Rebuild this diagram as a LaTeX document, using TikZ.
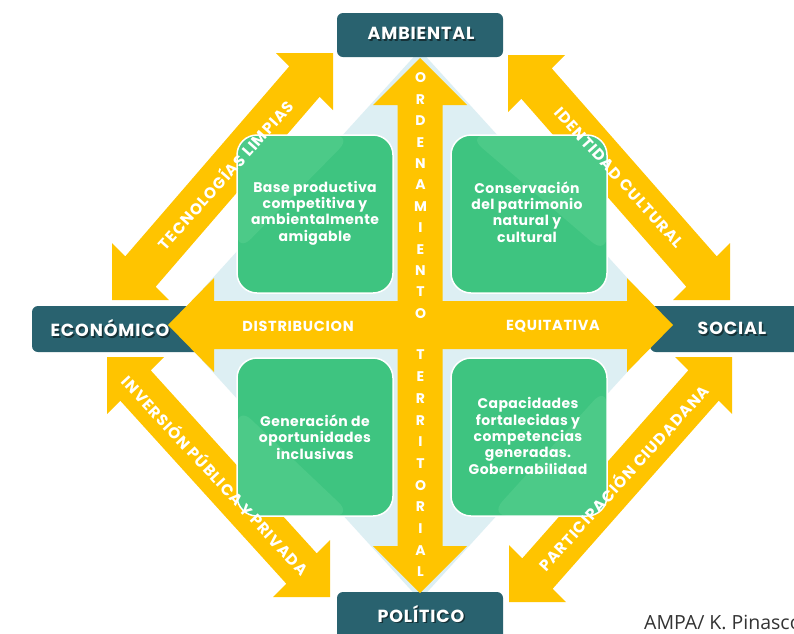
\documentclass[tikz,border=0pt]{standalone}
\usepackage{fontspec}
\setmainfont{Poppins}
\newfontfamily\widefont[LetterSpace=5]{Poppins}
\newfontfamily\midfont[LetterSpace=3]{Poppins}
\newfontfamily\diagfont[LetterSpace=7]{Poppins}
\newfontfamily\credfont{Open Sans}
\usetikzlibrary{calc}
\definecolor{tealc}{HTML}{29626F}
\definecolor{yel}{HTML}{FFC400}
\definecolor{lblue}{HTML}{DDEFF3}
\definecolor{gdark}{HTML}{3EC480}
\definecolor{glight}{HTML}{4CCA88}
\definecolor{shadowc}{HTML}{163238}
\begin{document}
\begin{tikzpicture}[x=1pt,y=-1pt,
  tealbox/.style={fill=tealc, rounded corners=6pt, inner sep=0pt},
  yfill/.style={fill=yel},
  greenbox/.style={draw=white, line width=1.5pt, fill=gdark, rounded corners=20pt,
     minimum width=156pt, minimum height=158pt, inner sep=0pt},
  gtext/.style={text=white, font=\midfont\bfseries\fontsize{14}{16.3}\selectfont, align=center, inner sep=0pt},
  ltext/.style={text=white, font=\widefont\bfseries\fontsize{17.5}{20}\selectfont, inner sep=0pt},
  lshadow/.style={text=shadowc, font=\widefont\bfseries\fontsize{17.5}{20}\selectfont, inner sep=0pt},
  atext/.style={text=white, font=\widefont\bfseries\fontsize{14.5}{16}\selectfont, inner sep=0pt},
  dtext/.style={text=white, font=\diagfont\bfseries\fontsize{15.5}{17}\selectfont, inner sep=0pt},
  vlet/.style={text=white, font=\bfseries\fontsize{14}{15}\selectfont, inner sep=0pt},
  lightcorner/.style={path picture={\fill[glight] #1;}},
]
\useasboundingbox (0,0) rectangle (794,633);
\fill[white] (0,0) rectangle (794,633);

% light blue diamond
\fill[lblue] (420,50) -- (670,325) -- (420,600) -- (170,325) -- cycle;

% teal boxes
\node[tealbox, minimum width=166pt, minimum height=44pt] (amb) at (420,35) {};
\node[tealbox, minimum width=178pt, minimum height=46pt] (eco) at (121,329) {};
\node[tealbox, minimum width=170pt, minimum height=46pt] (soc) at (735,329) {};
\node[tealbox, minimum width=166pt, minimum height=52pt] (pol) at (420,618) {};

% central cross arrows
\fill[yfill] (420,58) -- (467,105) -- (442.5,105) -- (442.5,546) -- (467,546) -- (420,593)
  -- (373,546) -- (397.5,546) -- (397.5,105) -- (373,105) -- cycle;
\fill[yfill] (168,325) -- (214,278) -- (214,301) -- (627,301) -- (627,278) -- (673,325)
  -- (627,372) -- (627,349) -- (214,349) -- (214,372) -- cycle;

% diagonal double arrows
\coordinate (t1) at (112,300); \coordinate (t2) at (333,53);
\coordinate (i1) at (508,55);  \coordinate (i2) at (730,300);
\coordinate (v1) at (107,357); \coordinate (v2) at (330,597);
\coordinate (p1) at (509,602); \coordinate (p2) at (732,357);
\fill[yfill] (t1) -- (112,243) -- (125.3,256.3) -- (289.3,66.3) -- (276,53) -- (t2)
  -- (333,110) -- (319.7,96.7) -- (155.7,286.7) -- (169,300) -- cycle;
\fill[yfill] (i1) -- (565,55) -- (551.7,68.3) -- (716.7,256.3) -- (730,243) -- (i2)
  -- (673,300) -- (686.3,286.7) -- (521.3,98.7) -- (508,112) -- cycle;
\fill[yfill] (v1) -- (164,357) -- (150.7,370.3) -- (316.7,553.3) -- (330,540) -- (v2)
  -- (273,597) -- (286.3,583.7) -- (120.3,400.7) -- (107,414) -- cycle;
\fill[yfill] (p1) -- (509,545) -- (522.3,558.3) -- (688.3,370.3) -- (675,357) -- (p2)
  -- (732,414) -- (718.7,400.7) -- (552.7,588.7) -- (566,602) -- cycle;

% green boxes
\node[greenbox, lightcorner={(path picture bounding box.north west) -- ++(116,0) -- ++(-116,118) -- cycle}] (ul) at (315,214) {};
\node[greenbox, lightcorner={(path picture bounding box.north east) -- ++(-140,0) -- ++(140,120) -- cycle}] (ur) at (529,214) {};
\node[greenbox, lightcorner={(path picture bounding box.south west) -- ++(116,0) -- ++(-116,-110) -- cycle}] (ll) at (315,437) {};
\node[greenbox, lightcorner={(path picture bounding box.south east) -- ++(-118,0) -- ++(118,-130) -- cycle}] (lr) at (529,437) {};

\node[gtext] (ult) at (315,213) {Base productiva\\competitiva y\\ambientalmente\\amigable};
\node[gtext] (urt) at (527,212) {Conservación\\del patrimonio\\natural y\\cultural};
\node[gtext] (llt) at (315,437) {Generación de\\oportunidades\\inclusivas};
\node[gtext] (lrt) at (528,436) {Capacidades\\fortalecidas y\\competencias\\generadas.\\Gobernabilidad};

% teal labels
\node[lshadow] at (422.5,35) {AMBIENTAL};
\node[ltext] (ambt) at (421,33.5) {AMBIENTAL};
\node[lshadow] at (111.5,330) {ECONÓMICO};
\node[ltext] (ecot) at (110,328.5) {ECONÓMICO};
\node[lshadow] at (733.5,330) {SOCIAL};
\node[ltext] (soct) at (732,328.5) {SOCIAL};
\node[lshadow] at (422.5,615.5) {POLÍTICO};
\node[ltext] (polt) at (421,614) {POLÍTICO};

% cross labels
\foreach \l [count=\i from 0] in {O,R,D,E,N,A,M,I,E,N,T,O}
  \node[vlet] at (420.5,78+21.4*\i) {\l};
\foreach \l [count=\i from 0] in {T,E,R,R,I,T,O,R,I,A,L}
  \node[vlet] at (420.5,355+21.7*\i) {\l};
\node[atext] (dist) at (298,326) {DISTRIBUCION};
\node[atext] (equi) at (553,326) {EQUITATIVA};

% diagonal labels
\node[dtext, rotate=48.2] (tecl) at ($(t1)!0.51!(t2)$) {TECNOLOGÍAS LIMPIAS};
\node[dtext, rotate=-47.8] (idel) at ($(i1)!0.5!(i2)$) {IDENTIDAD CULTURAL};
\node[dtext, rotate=-47.1] (invl) at ($(v1)!0.49!(v2)$) {INVERSIÓN PÚBLICA Y PRIVADA};
\node[dtext, rotate=47.7] (parl) at ($(p1)!0.51!(p2)$) {PARTICIPACIÓN CIUDADANA};

% credit
\node[anchor=west, font=\credfont\fontsize{19.5}{22}\selectfont, text=black!80, inner sep=0pt] (cred) at (644,622) {AMPA/ K. Pinasco};
\end{tikzpicture}
\end{document}
